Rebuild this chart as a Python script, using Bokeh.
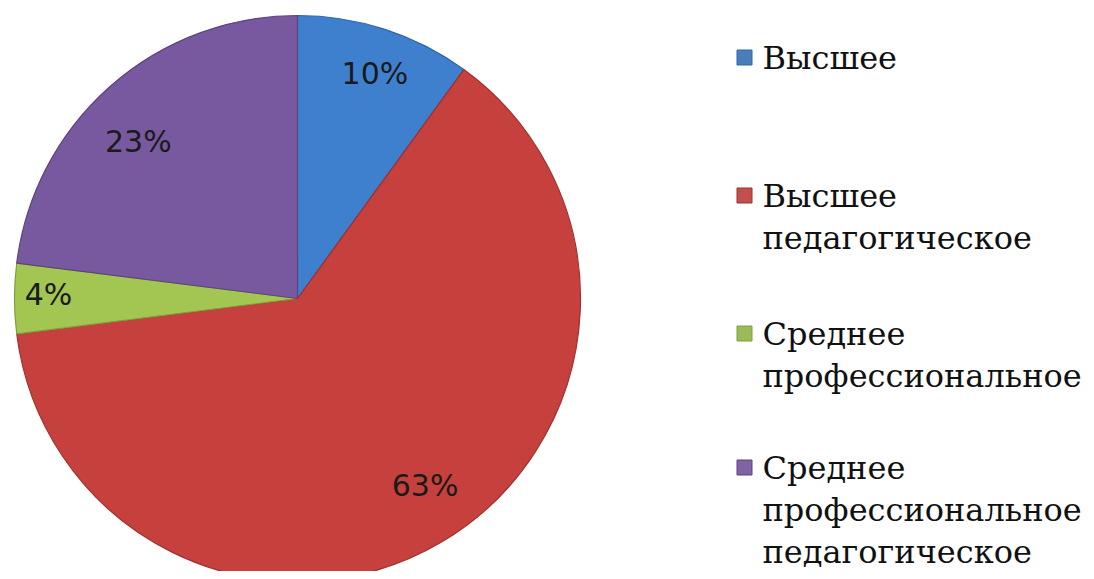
import math
from bokeh.plotting import figure
from bokeh.models import Range1d, ColumnDataSource
from bokeh.core.properties import value
from bokeh.embed import file_html
from bokeh.resources import INLINE

# ---- data ----
categories = ["Высшее", "Высшее\nпедагогическое", "Среднее\nпрофессиональное",
              "Среднее\nпрофессиональное\nпедагогическое"]
percents = [10, 63, 4, 23]
labels = ["10%", "63%", "4%", "23%"]
colors = ["#3F80CE", "#C6403D", "#A3C652", "#7859A0"]
edge_colors = ["#2F66A8", "#9E302E", "#7F9E3A", "#5C437E"]
legend_colors = ["#4A7EBB", "#C0504D", "#9BBB59", "#8064A2"]

# ---- layout constants (screen pixels) ----
W, H = 1086, 571
CX, CY, R = 297, 298, 283
label_r = [0.84, 0.80, 0.88, 0.79]
label_dang = [-1.0, 3.7, -1.0, 4.0]
legend_top = [57, 195, 333, 467]
line_step = 42
sq_x, txt_x = 744, 762

def sy(y):  # screen y -> data y
    return H - y

p = figure(width=W, height=H, output_backend="svg", toolbar_location=None,
           x_range=Range1d(0, W), y_range=Range1d(0, H),
           min_border=0, outline_line_color=None)
p.axis.visible = False
p.grid.visible = False
p.background_fill_color = "white"
p.border_fill_color = "white"

total = sum(percents)
starts, ends, mids = [], [], []
a = 90.0
for v in percents:
    d = 360.0 * v / total
    starts.append(math.radians(a))
    ends.append(math.radians(a - d))
    mids.append(a - d / 2)
    a -= d

src = ColumnDataSource(dict(start=starts, end=ends, color=colors, edge=edge_colors))
p.wedge(x=CX, y=sy(CY), radius=R, start_angle="start", end_angle="end",
        direction="clock", fill_color="color", line_color="edge", line_width=1.2,
        source=src)

angs = [math.radians(m + da) for m, da in zip(mids, label_dang)]
lx = [CX + R * f * math.cos(t) for f, t in zip(label_r, angs)]
ly = [sy(CY) + R * f * math.sin(t) for f, t in zip(label_r, angs)]
p.text(x=lx, y=ly, text=labels, text_align="center", text_baseline="middle",
       text_font=value("DejaVu Sans"), text_font_size="30px", text_color="#1a1a1a")

# legend
tx, ty, tt = [], [], []
for cat, top in zip(categories, legend_top):
    for i, line in enumerate(cat.split("\n")):
        tx.append(txt_x)
        ty.append(sy(top + i * line_step))
        tt.append(line)
p.text(x=tx, y=ty, text=tt, text_align="left", text_baseline="middle",
       text_font=value("DejaVu Serif"), text_font_size="32px", text_color="#111111")
p.scatter(x=[sq_x] * 4, y=[sy(t) for t in legend_top], marker="square", size=15,
          fill_color=legend_colors, line_color=edge_colors, line_width=1)

open("out.html", "w").write(file_html(p, INLINE))
